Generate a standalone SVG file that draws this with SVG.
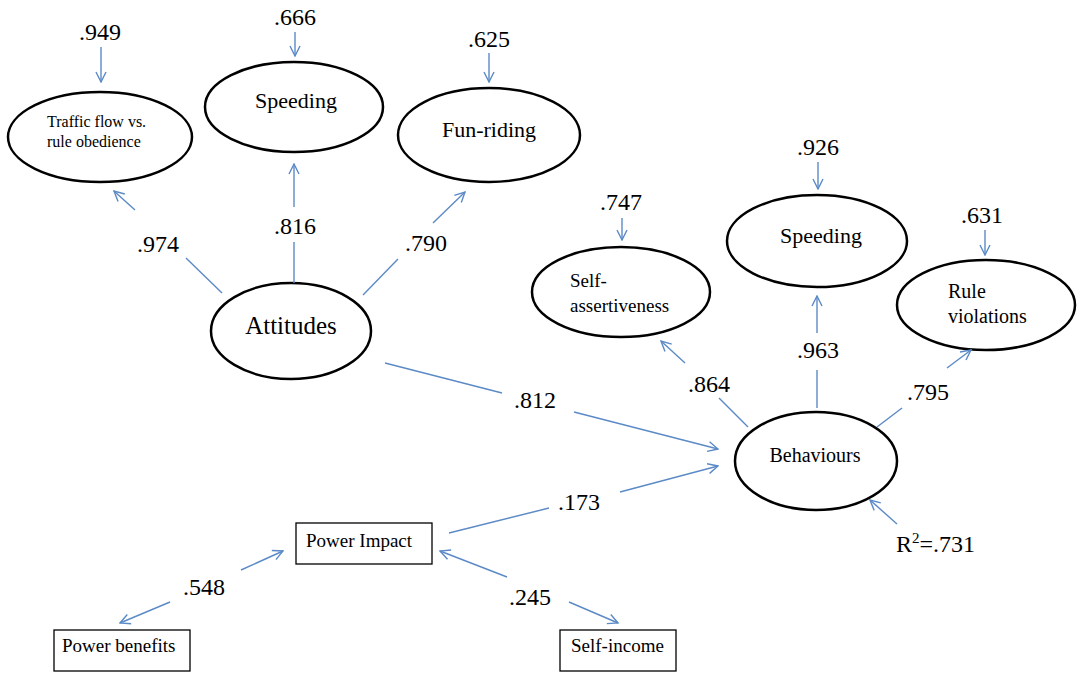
<svg xmlns="http://www.w3.org/2000/svg" width="1080" height="675" viewBox="0 0 1080 675">
<defs>
<marker id="ah" viewBox="0 0 12 12" refX="11" refY="6" markerWidth="12" markerHeight="12" markerUnits="userSpaceOnUse" orient="auto-start-reverse">
<polyline points="1,1 11,6 1,11" fill="none" stroke="#5b8ac6" stroke-width="1.4"/>
</marker>
<style>
.n{fill:#fff;stroke:#000;stroke-width:2.5}
.b{fill:#fff;stroke:#000;stroke-width:1.3}
.c line{stroke:#5b8ac6;stroke-width:1.4;fill:none}
text{font-family:"Liberation Serif","Times New Roman",serif;fill:#000}
.num{font-size:24px;text-anchor:middle}
</style>
</defs>
<rect width="1080" height="675" fill="#fff"/>
<g font-family="Liberation Serif, Times New Roman, serif">
<g id="traffic"><ellipse class="n" cx="100" cy="137" rx="92" ry="45"/><text x="47" y="127" font-size="16">Traffic flow vs.</text><text x="47" y="147" font-size="16">rule obedience</text></g>
<g id="speeding1"><ellipse class="n" cx="294" cy="107" rx="89" ry="45"/><text x="296" y="108" font-size="22" text-anchor="middle">Speeding</text></g>
<g id="funriding"><ellipse class="n" cx="489" cy="135" rx="91" ry="47"/><text x="489" y="137" font-size="22" text-anchor="middle">Fun-riding</text></g>
<g id="attitudes"><ellipse class="n" cx="291" cy="331" rx="80" ry="48"/><text x="291" y="334" font-size="25" text-anchor="middle">Attitudes</text></g>
<g id="selfassert"><ellipse class="n" cx="621" cy="292" rx="89" ry="45"/><text x="570" y="287" font-size="19">Self-</text><text x="570" y="312" font-size="19">assertiveness</text></g>
<g id="speeding2"><ellipse class="n" cx="817" cy="241" rx="90" ry="46"/><text x="821" y="243" font-size="22" text-anchor="middle">Speeding</text></g>
<g id="ruleviol"><ellipse class="n" cx="986" cy="305" rx="89" ry="45"/><text x="948" y="298" font-size="20">Rule</text><text x="948" y="323" font-size="20">violations</text></g>
<g id="behaviours"><ellipse class="n" cx="816" cy="461" rx="81" ry="49"/><text x="815" y="462" font-size="20" text-anchor="middle">Behaviours</text></g>
<g id="powerimpact"><rect class="b" x="296" y="523" width="136" height="41"/><text x="306" y="547" font-size="19">Power Impact</text></g>
<g id="powerbenefits"><rect class="b" x="54" y="630" width="136" height="41"/><text x="62" y="652" font-size="19">Power benefits</text></g>
<g id="selfincome"><rect class="b" x="560" y="630" width="116" height="41"/><text x="571" y="652" font-size="19">Self-income</text></g>
</g>
<g class="c" id="connectors">
<line x1="101" y1="47" x2="101" y2="82" marker-end="url(#ah)"/>
<line x1="295" y1="32" x2="295" y2="56" marker-end="url(#ah)"/>
<line x1="489" y1="53" x2="489" y2="82" marker-end="url(#ah)"/>
<line x1="622" y1="218" x2="622" y2="240" marker-end="url(#ah)"/>
<line x1="818" y1="162" x2="818" y2="189" marker-end="url(#ah)"/>
<line x1="985" y1="230" x2="985" y2="255" marker-end="url(#ah)"/>
<line x1="222" y1="293" x2="186" y2="258"/>
<line x1="135" y1="210" x2="114" y2="191" marker-end="url(#ah)"/>
<line x1="294" y1="283" x2="294" y2="242"/>
<line x1="294" y1="207" x2="294" y2="164" marker-end="url(#ah)"/>
<line x1="363" y1="295" x2="398" y2="259"/>
<line x1="433" y1="223" x2="465" y2="192" marker-end="url(#ah)"/>
<line x1="385" y1="363" x2="502" y2="393"/>
<line x1="574" y1="412" x2="718" y2="449" marker-end="url(#ah)"/>
<line x1="449" y1="533" x2="549" y2="508"/>
<line x1="620" y1="492" x2="718" y2="466" marker-end="url(#ah)"/>
<line x1="748" y1="427" x2="719" y2="398"/>
<line x1="685" y1="363" x2="661" y2="341" marker-end="url(#ah)"/>
<line x1="817" y1="408" x2="817" y2="370"/>
<line x1="817" y1="333" x2="817" y2="296" marker-end="url(#ah)"/>
<line x1="877" y1="427" x2="902" y2="408"/>
<line x1="947" y1="368" x2="971" y2="350" marker-end="url(#ah)"/>
<line x1="897" y1="524" x2="870" y2="500" marker-end="url(#ah)"/>
<line x1="170" y1="602" x2="120" y2="623" marker-end="url(#ah)"/>
<line x1="241" y1="570" x2="283" y2="551" marker-end="url(#ah)"/>
<line x1="507" y1="577" x2="440" y2="551" marker-end="url(#ah)"/>
<line x1="569" y1="602" x2="618" y2="623" marker-end="url(#ah)"/>
</g>
<g id="labels">
<text class="num" x="100" y="40">.949</text>
<text class="num" x="295" y="25">.666</text>
<text class="num" x="489" y="47">.625</text>
<text class="num" x="158" y="252">.974</text>
<text class="num" x="295" y="234">.816</text>
<text class="num" x="426" y="251">.790</text>
<text class="num" x="621" y="210">.747</text>
<text class="num" x="818" y="155">.926</text>
<text class="num" x="982" y="223">.631</text>
<text class="num" x="709" y="392">.864</text>
<text class="num" x="818" y="358">.963</text>
<text class="num" x="928" y="400">.795</text>
<text class="num" x="535" y="408">.812</text>
<text class="num" x="579" y="510">.173</text>
<text class="num" x="204" y="595">.548</text>
<text class="num" x="530" y="605">.245</text>
<text x="896" y="552" font-size="24">R<tspan font-size="15" dy="-9">2</tspan><tspan dy="9">=.731</tspan></text>
</g>
</svg>
